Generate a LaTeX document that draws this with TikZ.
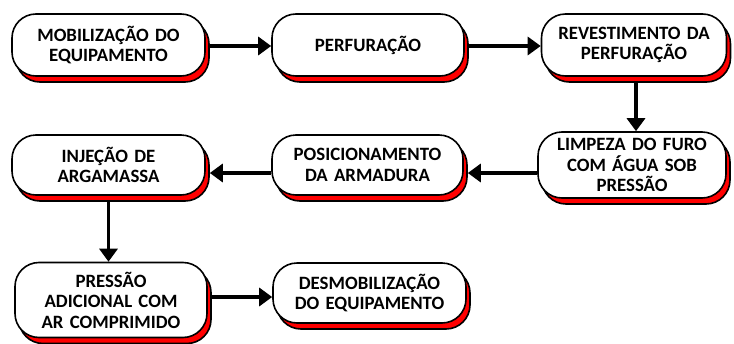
\documentclass[tikz,border=0pt]{standalone}
\usepackage{fontspec}
\setmainfont{Carlito}
\usetikzlibrary{shadows,arrows.meta}
\begin{document}
\begin{tikzpicture}[x=1pt,y=-1pt,
  stepbox/.style={draw=black, line width=1.6pt, fill=white, rounded corners=24pt,
    align=center, inner sep=0pt, text width=#1,
    font=\bfseries\fontsize{18.8}{20.5}\selectfont,
    general shadow={shadow xshift=4pt, shadow yshift=-6pt, fill=red, draw=black, line width=1.6pt}},
  flow/.style={line width=3.6pt, -{Triangle[length=13pt,width=18pt]}}]
\useasboundingbox (0,0) rectangle (734,343);
\node[stepbox=186pt, minimum width=193pt, minimum height=62pt] (n1) at (108.5,45) {MOBILIZAÇÃO DO\\EQUIPAMENTO};
\node[stepbox=186pt, minimum width=192pt, minimum height=62pt] (n2) at (368,45) {PERFURAÇÃO};
\node[stepbox=180pt, minimum width=185pt, minimum height=62pt] (n3) at (634,45) {REVESTIMENTO DA\\PERFURAÇÃO};
\node[stepbox=180pt, minimum width=188pt, minimum height=66pt] (n4) at (632,165) {LIMPEZA DO FURO\\COM ÁGUA SOB\\PRESSÃO};
\node[stepbox=186pt, minimum width=191pt, minimum height=60pt] (n5) at (367.5,165) {POSICIONAMENTO\\DA ARMADURA};
\node[stepbox=186pt, minimum width=193pt, minimum height=60pt] (n6) at (108.5,165) {INJEÇÃO DE\\ARGAMASSA};
\node[stepbox=186pt, minimum width=192pt, minimum height=75pt] (n7) at (111,300) {PRESSÃO\\ADICIONAL COM\\AR COMPRIMIDO};
\node[stepbox=186pt, minimum width=193pt, minimum height=60pt] (n8) at (369.5,293) {DESMOBILIZAÇÃO\\DO EQUIPAMENTO};
\draw[flow] ([xshift=4pt,yshift=-1pt]n1.east) -- ([yshift=-1pt]n2.west);
\draw[flow] ([xshift=4pt,yshift=-1pt]n2.east) -- ([yshift=-1pt]n3.west);
\draw[flow] ([xshift=2pt,yshift=-6pt]n3.south) -- ([xshift=2pt]n3.south |- n4.north);
\draw[flow] ([yshift=-8pt]n4.west) -- ([xshift=4pt,yshift=-8pt]n5.east);
\draw[flow] ([yshift=-8pt]n5.west) -- ([xshift=4pt,yshift=-8pt]n6.east);
\draw[flow] ([yshift=-6pt]n6.south) -- (n6.south |- n7.north);
\draw[flow] ([xshift=4pt,yshift=3pt]n7.east) -- ([yshift=-4pt]n8.west);
\end{tikzpicture}
\end{document}
